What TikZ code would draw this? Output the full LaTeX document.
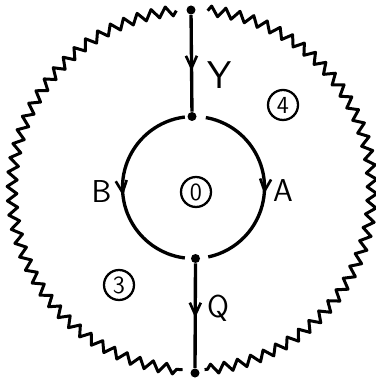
\documentclass[tikz,border=0pt]{standalone}
\usetikzlibrary{arrows.meta,decorations.pathmorphing,decorations.markings}

\begin{document}
\begin{tikzpicture}[every node/.style={font=\sffamily\fontsize{18}{20}\selectfont},
    dot/.style={circle, fill, inner sep=0pt, minimum size=0.18cm},
    line/.style={line width=1.9pt},
    wavy/.style={line width=1.7pt, line join=round, decorate,
        decoration={zigzag, segment length=8pt, amplitude=2.8pt}},
    midarrow/.style={postaction={decorate, decoration={markings,
        mark=at position #1 with {\arrow{Straight Barb[length=2.4mm,width=2.2mm,line width=1.5pt]}}}}},
    region/.style={circle, draw, line width=1.3pt, inner sep=0pt, minimum size=0.6cm,
        font=\sffamily\fontsize{14}{15}\selectfont}]
    \useasboundingbox (-3.84,-3.8) rectangle (3.68,3.8);

    % Centre of the inner circle
    \coordinate (c) at (0.03,0.05);

    % Dots
    \node[dot] (top) at (-0.02,3.6) {};
    \node[dot] (in) at (0.0,1.47) {};
    \node[dot] (out) at (0.07,-1.37) {};
    \node[dot] (bot) at (0.06,-3.66) {};

    % Outer boundary
    \draw[wavy] (85:3.6) arc (85:-86:3.6);
    \draw[wavy] (95:3.6) arc (95:267:3.6);

    % Inner circle
    \draw[line, midarrow=0.54] ([shift={(97:1.42)}]c) arc (97:263:1.42);
    \draw[line, midarrow=0.54] ([shift={(80:1.42)}]c) arc (80:-78:1.42);

    % Labels
    \node (y) at (0.56,2.3) {\fontsize{22}{24}\selectfont Y};
    \node (b) at (-1.81,-0.04) {B};
    \node (a) at (1.82,-0.02) {A};
    \node (q) at (0.52,-2.36) {Q};

    % Regions
    \node[region] (r4) at (1.82,1.7) {4};
    \node[region] (r0) at (0.08,-0.04) {0};
    \node[region] (r3) at (-1.46,-1.9) {3};

    % Edges
    \draw[line, midarrow=0.58] (top) -- (in);
    \draw[line, midarrow=0.52] (out) -- (bot);
\end{tikzpicture}
\end{document}
